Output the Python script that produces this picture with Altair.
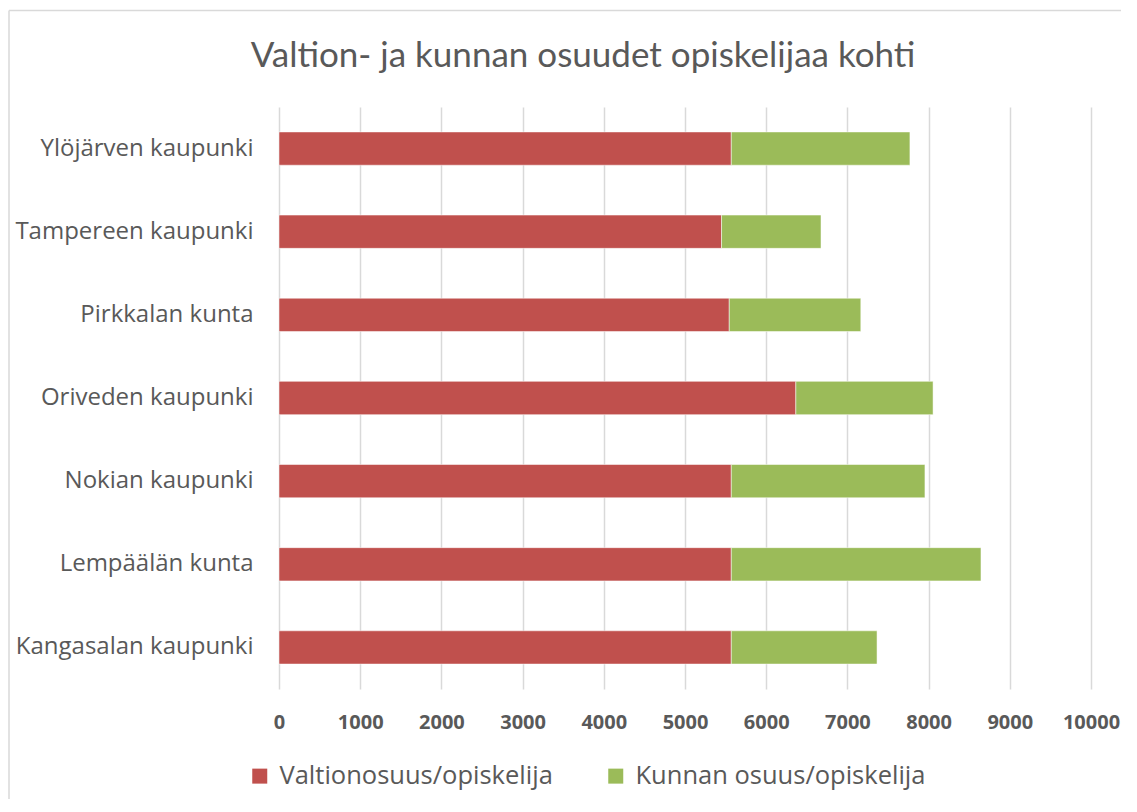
import altair as alt
import pandas as pd

categories = ["Ylöjärven kaupunki", "Tampereen kaupunki", "Pirkkalan kunta",
              "Oriveden kaupunki", "Nokian kaupunki", "Lempäälän kunta",
              "Kangasalan kaupunki"]
valtio = [5570, 5450, 5545, 6365, 5570, 5570, 5570]
kunta = [2200, 1225, 1620, 1690, 2385, 3075, 1795]
series = ["Valtionosuus/opiskelija", "Kunnan osuus/opiskelija"]
colors = ["#C0504D", "#9BBB59"]
x_ticks = [0, 1000, 2000, 3000, 4000, 5000, 6000, 7000, 8000, 9000, 10000]
title_text = "Valtion- ja kunnan osuudet opiskelijaa kohti"

rows = []
for c, v, k in zip(categories, valtio, kunta):
    rows.append({"kunta": c, "sarja": series[0], "arvo": v, "jarj": 0})
    rows.append({"kunta": c, "sarja": series[1], "arvo": k, "jarj": 1})
df = pd.DataFrame(rows)

TXT = "#595959"
FONT = "Open Sans"

bars = alt.Chart(df).mark_bar(stroke="white", strokeWidth=0.5).encode(
    y=alt.Y("kunta:N", sort=categories, title=None,
            scale=alt.Scale(paddingInner=0.6, paddingOuter=0.3),
            axis=alt.Axis(labelFont=FONT, labelFontSize=24, labelColor=TXT,
                          ticks=False, domain=False, labelPadding=26,
                          labelLimit=400)),
    x=alt.X("arvo:Q", stack="zero", title=None,
            scale=alt.Scale(domain=[0, 10000], nice=False),
            axis=alt.Axis(values=x_ticks, format="d", labelFont=FONT,
                          labelFontSize=20, labelFontWeight="bold",
                          labelColor=TXT, gridColor="#D9D9D9", gridWidth=1.5,
                          labelFlush=False,
                          ticks=False, domain=False, labelPadding=23)),
    color=alt.Color("sarja:N", sort=series,
                    scale=alt.Scale(domain=series, range=colors),
                    legend=alt.Legend(title=None, orient="none",
                                      direction="horizontal",
                                      legendX=-32, legendY=656,
                                      symbolType="square", symbolSize=225,
                                      symbolStrokeWidth=0, labelOffset=7,
                                      labelFont=FONT, labelFontSize=25.5,
                                      labelColor=TXT, columnPadding=50,
                                      labelLimit=500)),
    order=alt.Order("jarj:Q"),
)

title_df = pd.DataFrame({"t": [title_text]})
title_mark = alt.Chart(title_df).mark_text(
    font="Lato", fontSize=35, color=TXT, align="center",
    baseline="alphabetic").encode(
    x=alt.value(304), y=alt.value(-40.5), text="t:N")

border_top = alt.Chart(title_df).mark_rule(color="#D9D9D9", strokeWidth=1.5).encode(
    x=alt.value(-270), x2=alt.value(860), y=alt.value(-96.5))
border_left = alt.Chart(title_df).mark_rule(color="#D9D9D9", strokeWidth=1.5).encode(
    x=alt.value(-270), y=alt.value(-96.5), y2=alt.value(720))

chart = alt.layer(bars, title_mark, border_top, border_left).properties(
    width=812, height=582,
    autosize=alt.AutoSizeParams(type="none"),
    padding={"left": 271, "top": 99, "right": 30, "bottom": 110},
    background="white",
).configure_view(strokeWidth=0)

chart.save("out.html", embed_options={"renderer": "svg", "actions": False})
